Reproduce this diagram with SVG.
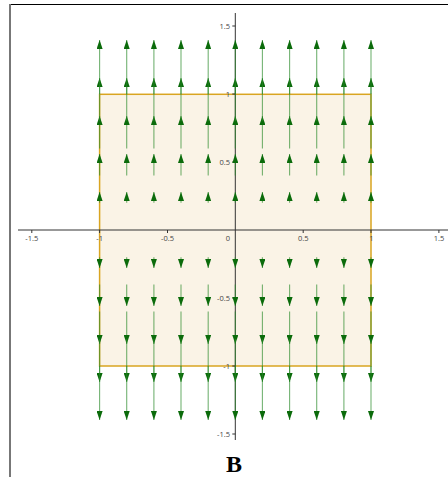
<svg xmlns="http://www.w3.org/2000/svg" xmlns:xlink="http://www.w3.org/1999/xlink" width="448" height="477" viewBox="0 0 448 477">
<style>
.axis{stroke:#333;stroke-width:1;fill:none}
.tick{stroke:#333;stroke-width:1}
.tl{font-family:"Open Sans","Liberation Sans",sans-serif;font-size:7.5px;fill:#444}
.vec{stroke:#2a8a2a;stroke-opacity:0.65;stroke-width:1.1;marker-end:url(#ah)}
.title{font-family:"Liberation Serif",serif;font-size:24px;font-weight:bold;fill:#000}
</style>
<defs>
<marker id="ah" markerUnits="userSpaceOnUse" markerWidth="10" markerHeight="6" refX="9" refY="3" orient="auto">
<path d="M0,0 L9,3 L0,6 Z" fill="#0b6b0b"/>
</marker>
<g id="col">
<line class="vec" x1="0" y1="202.8" x2="0" y2="192"/>
<line class="vec" x1="0" y1="175.6" x2="0" y2="154"/>
<line class="vec" x1="0" y1="148.4" x2="0" y2="116"/>
<line class="vec" x1="0" y1="121.2" x2="0" y2="78"/>
<line class="vec" x1="0" y1="94" x2="0" y2="40"/>
<line class="vec" x1="0" y1="257.2" x2="0" y2="268"/>
<line class="vec" x1="0" y1="284.4" x2="0" y2="306"/>
<line class="vec" x1="0" y1="311.6" x2="0" y2="344"/>
<line class="vec" x1="0" y1="338.8" x2="0" y2="382"/>
<line class="vec" x1="0" y1="366" x2="0" y2="420"/>
</g>
</defs>
<g id="frame">
<line x1="10" y1="4.5" x2="448" y2="4.5" stroke="#000" stroke-width="1"/>
<line x1="10" y1="4" x2="10" y2="477" stroke="#777" stroke-width="2"/>
</g>
<g id="region">
<rect x="99.6" y="94.3" width="271.4" height="271.7" fill="#faf3e6" stroke="#d9a521" stroke-width="1.5"/>
</g>
<g id="axes">
<line class="axis" x1="18" y1="230" x2="448" y2="230"/>
<line class="axis" x1="235.3" y1="13" x2="235.3" y2="440"/>
<g class="tick">
<line x1="31.8" y1="230" x2="31.8" y2="233"/>
<line x1="99.6" y1="230" x2="99.6" y2="233"/>
<line x1="167.5" y1="230" x2="167.5" y2="233"/>
<line x1="303.2" y1="230" x2="303.2" y2="233"/>
<line x1="371" y1="230" x2="371" y2="233"/>
<line x1="438.9" y1="230" x2="438.9" y2="233"/>
<line x1="232.3" y1="26" x2="235.3" y2="26"/>
<line x1="232.3" y1="94" x2="235.3" y2="94"/>
<line x1="232.3" y1="162" x2="235.3" y2="162"/>
<line x1="232.3" y1="298" x2="235.3" y2="298"/>
<line x1="232.3" y1="366" x2="235.3" y2="366"/>
<line x1="232.3" y1="434" x2="235.3" y2="434"/>
</g>
<g class="tl" text-anchor="middle">
<text x="31.8" y="240.5">-1.5</text>
<text x="99.6" y="240.5">-1</text>
<text x="167.5" y="240.5">-0.5</text>
<text x="228" y="240.5">0</text>
<text x="303.2" y="240.5">0.5</text>
<text x="371.5" y="240.5">1</text>
<text x="438.9" y="240.5">1.5</text>
</g>
<g class="tl" text-anchor="end">
<text x="230" y="28.7">1.5</text>
<text x="230" y="96.7">1</text>
<text x="230" y="164.7">0.5</text>
<text x="230" y="300.7">-0.5</text>
<text x="230" y="368.7">-1</text>
<text x="230" y="436.7">-1.5</text>
</g>
</g>
<g id="vectors">
<use xlink:href="#col" x="99.6"/>
<use xlink:href="#col" x="126.7"/>
<use xlink:href="#col" x="153.9"/>
<use xlink:href="#col" x="181"/>
<use xlink:href="#col" x="208.2"/>
<use xlink:href="#col" x="235.3"/>
<use xlink:href="#col" x="262.4"/>
<use xlink:href="#col" x="289.6"/>
<use xlink:href="#col" x="316.7"/>
<use xlink:href="#col" x="343.9"/>
<use xlink:href="#col" x="371"/>
</g>
<g id="label">
<text class="title" x="234" y="472" text-anchor="middle">B</text>
</g>
</svg>
